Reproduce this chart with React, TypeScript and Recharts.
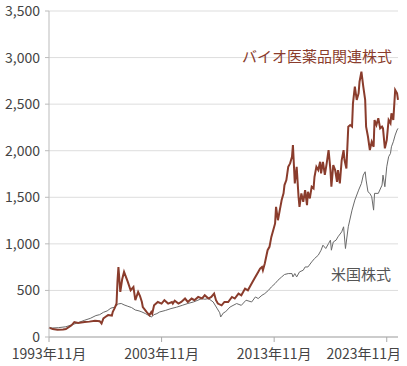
import { LineChart, Line, XAxis, YAxis, CartesianGrid } from "recharts";

// months counted from 1993年11月
const xTickMonths = [0, 120, 240, 360];
const xTickLabels = ["1993年11月", "2003年11月", "2013年11月", "2023年11月"];
const yTicks = [0, 500, 1000, 1500, 2000, 2500, 3000, 3500];

const bioMonths = [
  0, 4, 9, 15, 18, 24, 27, 31, 38, 43, 49, 54, 56, 58, 60, 63, 67, 68, 70, 72, 73, 74, 76, 78, 80, 84, 87, 90, 92, 95,
  97, 99, 100, 104, 107, 109, 110, 112, 116, 120, 123, 127, 131, 132, 134, 138, 141, 145, 148, 152, 155, 159, 163, 166,
  170, 173, 176, 178, 180, 184, 187, 191, 195, 198, 202, 205, 209, 212, 216, 219, 223, 225, 227, 228, 230, 233, 235, 237,
  239, 241, 242, 244, 246, 248, 250, 251, 253, 255, 257, 259, 260, 262, 264, 266, 267, 269, 271, 273, 275, 276, 278, 280,
  282, 283, 285, 287, 289, 290, 292, 294, 296, 298, 300, 301, 303, 305, 307, 308, 310, 312, 314, 315, 317, 319, 321, 323,
  324, 326, 328, 330, 331, 333, 335, 337, 338, 340, 342, 344, 346, 347, 349, 351, 353, 355, 356, 358, 360, 362, 364, 365,
  367, 369, 371, 372,
];
const bioValues = [
  100, 85, 78, 80, 85, 125, 160, 150, 160, 165, 175, 170, 145, 200, 215, 235, 230, 270, 310, 360, 600, 752, 484, 620, 699,
  591, 502, 537, 395, 484, 440, 376, 322, 269, 233, 269, 251, 340, 376, 359, 395, 359, 376, 359, 390, 359, 376, 413, 376,
  413, 395, 430, 413, 448, 413, 430, 466, 395, 359, 340, 376, 376, 430, 413, 466, 448, 520, 502, 574, 628, 699, 735, 752,
  717, 789, 932, 968, 1075, 1147, 1219, 1398, 1254, 1362, 1470, 1542, 1631, 1685, 1827, 1864, 1935, 2061, 1649, 1827, 1505,
  1398, 1542, 1451, 1577, 1416, 1559, 1488, 1613, 1595, 1720, 1827, 1792, 1881, 1756, 1881, 1740, 1864, 2007, 1792, 1613,
  1846, 1792, 1666, 1792, 1649, 1900, 2007, 1900, 1810, 2258, 2275, 2258, 2509, 2688, 2545, 2617, 2741, 2849, 2688, 2545,
  2258, 2150, 2007, 2096, 2042, 2330, 2275, 2348, 2240, 2258, 2240, 2025, 2114, 2330, 2294, 2401, 2330, 2652, 2617, 2545,
];

const usMonths = [
  0, 4, 10, 18, 24, 30, 38, 44, 50, 54, 58, 62, 66, 70, 74, 77, 80, 84, 88, 92, 96, 99, 103, 106, 109, 112, 115, 118, 124,
  130, 136, 142, 148, 154, 160, 163, 166, 170, 175, 179, 182, 183, 186, 188, 193, 200, 205, 210, 216, 220, 223, 227, 230,
  234, 237, 241, 244, 248, 251, 255, 259, 260, 262, 264, 267, 271, 273, 276, 280, 283, 287, 290, 292, 295, 298, 300, 301,
  303, 306, 308, 312, 314, 316, 319, 323, 326, 330, 333, 335, 337, 338, 340, 342, 344, 346, 347, 351, 355, 356, 358, 360,
  362, 364, 365, 367, 369, 371, 372,
];
const usValues = [
  100, 97, 100, 110, 130, 150, 180, 200, 230, 240, 265, 280, 310, 320, 355, 360, 345, 330, 316, 290, 280, 269, 250, 233,
  215, 240, 251, 269, 285, 305, 320, 340, 360, 376, 400, 413, 405, 413, 376, 310, 260, 215, 260, 269, 322, 359, 340, 395,
  376, 430, 413, 448, 466, 502, 537, 574, 609, 645, 671, 681, 681, 645, 681, 645, 699, 717, 752, 752, 806, 842, 878, 932,
  986, 950, 1004, 1040, 932, 1020, 1040, 1075, 1129, 1183, 950, 1183, 1362, 1470, 1577, 1649, 1738, 1774, 1685, 1559, 1542,
  1505, 1362, 1542, 1542, 1631, 1738, 1613, 1827, 1935, 1971, 2042, 2096, 2168, 2222, 2240,
];

const bioData = bioMonths.map((m, i) => ({ m, v: bioValues[i] }));
const usData = usMonths.map((m, i) => ({ m, v: usValues[i] }));

const FONT = '"Noto Sans CJK JP", "Noto Sans", sans-serif';

function XTick(props: any) {
  const { x, y, payload, index } = props;
  const label = xTickLabels[xTickMonths.indexOf(payload.value)];
  const last = index === xTickMonths.length - 1;
  return (
    <text x={last ? 401 : x} y={y + 1} dy="0.71em" textAnchor={last ? "end" : "middle"} fontSize={14} fill="#444" fontFamily={FONT}>
      {label}
    </text>
  );
}

export default function App() {
  return (
    <div style={{ position: "absolute", left: 0, top: 0, width: 407, height: 366, fontFamily: FONT }}>
      <LineChart width={407} height={366} margin={{ top: 11, right: 9, left: 0, bottom: 0 }}>
        <CartesianGrid stroke="#dddddd" vertical={false} />
        <XAxis
          dataKey="m"
          type="number"
          domain={[0, 372]}
          ticks={xTickMonths}
          height={29}
          axisLine={{ stroke: "#aaa" }}
          tickLine={{ stroke: "#aaa" }}
          tickSize={5}
          tickMargin={6}
          tick={<XTick />}
        />
        <YAxis
          domain={[0, 3500]}
          ticks={yTicks}
          width={49}
          axisLine={{ stroke: "#bbb" }}
          tickLine={{ stroke: "#bbb" }}
          tickSize={4}
          tickMargin={5}
          tick={{ fontSize: 14, fill: "#444", fontFamily: FONT }}
          tickFormatter={(v: number) => v.toLocaleString("en-US")}
        />
        <Line data={usData} dataKey="v" type="linear" stroke="#6a6a6a" strokeWidth={1} dot={false} isAnimationActive={false} />
        <Line data={bioData} dataKey="v" type="linear" stroke="#8a3c2c" strokeWidth={2} dot={false} isAnimationActive={false} />
      </LineChart>
      <svg width={407} height={366} style={{ position: "absolute", left: 0, top: 0, pointerEvents: "none" }}>
        <text x={242} y={55} dominantBaseline="central" fontSize={15} fill="#8a3c2c" fontFamily={FONT}>
          バイオ医薬品関連株式
        </text>
        <text x={331} y={273} dominantBaseline="central" fontSize={15} fill="#555" fontFamily={FONT}>
          米国株式
        </text>
      </svg>
    </div>
  );
}
